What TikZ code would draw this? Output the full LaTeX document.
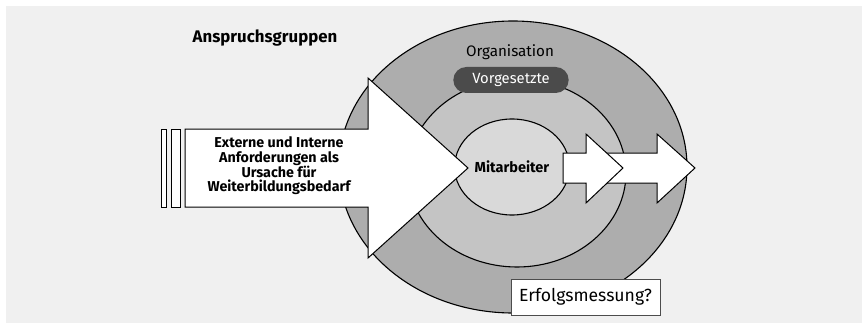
\documentclass[tikz,border=0pt]{standalone}
\usepackage{fontspec}
\setmainfont{Fira Sans}
\usetikzlibrary{shapes.geometric, shapes.misc}
\definecolor{panel}{HTML}{F0F0F0}
\definecolor{grauaussen}{HTML}{ADADAD}
\definecolor{graumitte}{HTML}{C4C4C4}
\definecolor{grauinnen}{HTML}{D9D9D9}
\definecolor{pillgrau}{HTML}{4B4B4B}
\begin{document}
\begin{tikzpicture}[x=1pt, y=-1pt,
                    ring/.style={draw, line width=1.1pt},
                    pfeil/.style={draw, fill=white, line width=1pt, line join=miter},
                    pill/.style={rounded rectangle, fill=pillgrau, text=white, minimum width=122pt,
                                 minimum height=26pt, font=\fontsize{14.8}{17}\selectfont},
                    kasten/.style={rectangle, draw=black!70, fill=white, line width=0.9pt, minimum width=149pt,
                                   minimum height=36pt, font=\fontsize{17.6}{20}\selectfont},
                    normal/.style={font=\fontsize{15.2}{17}\selectfont},
                    fett/.style={font=\bfseries\fontsize{16.8}{18}\selectfont}]
  \useasboundingbox (0,0) rectangle (868,329);
  \fill[white] (0,0) rectangle (868,329);
  \fill[panel] (6,6) rectangle (862,323);
  % Ringe
  \coordinate (orga) at (513,167);
  \coordinate (fuehrung) at (517,173);
  \draw[ring, fill=grauaussen] (orga) ellipse [x radius=174, y radius=146];
  \draw[ring, fill=graumitte] (fuehrung) ellipse [x radius=109, y radius=94];
  \node[ellipse, ring, fill=grauinnen, minimum width=114pt, minimum height=96pt, font=\bfseries\fontsize{14.5}{16}\selectfont] (mitarbeiter) at (512,167) {Mitarbeiter};
  \node[pill] (vorgesetzte) at (511,80) {Vorgesetzte};
  \node[normal] (organisation) at (510,52) {Organisation};
  \node[fett] (anspruch) at (265,38) {Anspruchsgruppen};
  % grosser Pfeil
  \draw[pfeil] (161,129) rectangle (166,207);
  \draw[pfeil] (171,129) rectangle (180,207);
  \draw[pfeil] (185,129) -- (368,129) -- (368,78) -- (468,168) -- (368,258) -- (368,207) -- (185,207) -- cycle;
  \node[font=\bfseries\fontsize{14.3}{14.7}\selectfont, align=center] (anforderungen) at (279,166)
       {Externe und Interne\\Anforderungen als\\Ursache für\\Weiterbildungsbedarf};
  % kleine Pfeile
  \draw[pfeil] (586,153) -- (657,153) -- (657,134) -- (695,168) -- (657,203) -- (657,183) -- (586,183) -- cycle;
  \draw[pfeil] (563,153) -- (586,153) -- (586,134) -- (623,168) -- (586,203) -- (586,183) -- (563,183) -- cycle;
  \node[kasten] (erfolg) at (585.5,297) {Erfolgsmessung?};
\end{tikzpicture}
\end{document}
